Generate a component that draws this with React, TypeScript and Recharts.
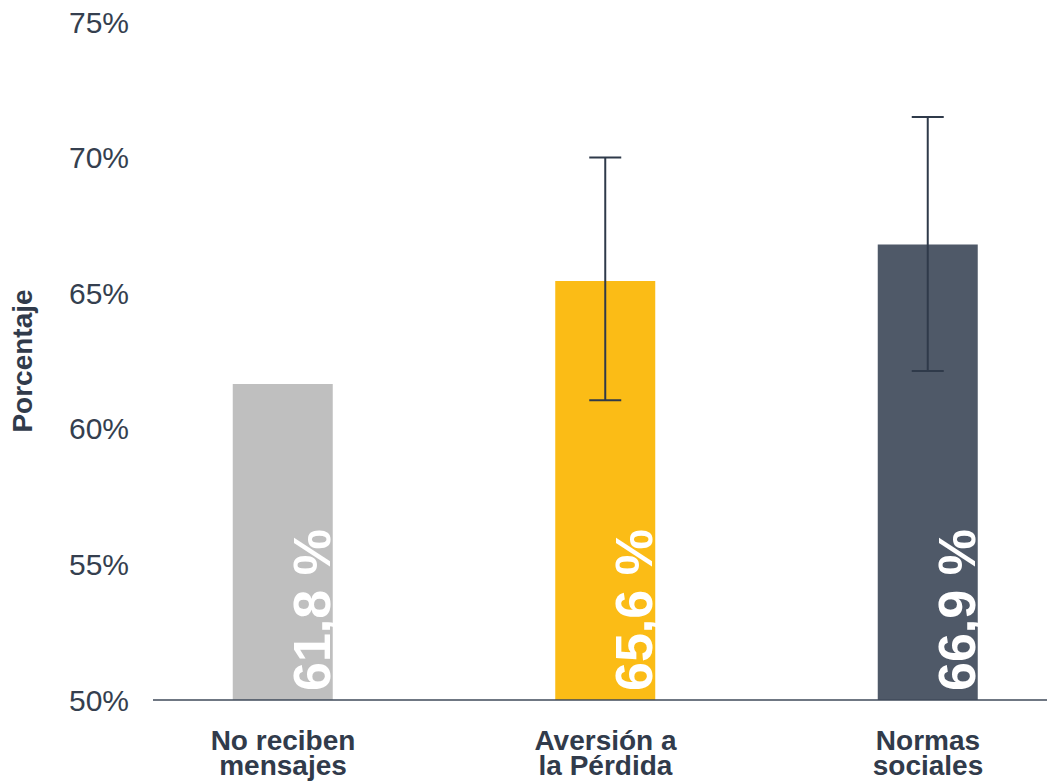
import { BarChart, Bar, XAxis, YAxis, Cell, ErrorBar, LabelList, Label } from 'recharts';

const categories = [
    ['No reciben', 'mensajes'],
    ['Aversión a', 'la Pérdida'],
    ['Normas', 'sociales'],
];
const values = [61.65, 65.45, 66.8];
const valueLabels = ['61,8 %', '65,6 %', '66,9 %'];
const errLow = [null, 4.4, 4.67];
const errHigh = [null, 4.55, 4.7];
const yTicks = [50, 55, 60, 65, 70, 75];
const colors = ['#bfbfbf', '#fbbc16', '#4f5968'];

const data = categories.map((c, i) => ({
    pos: i,
    value: values[i],
    err: errLow[i] === null ? null : [errLow[i], errHigh[i]],
}));

const textColor = '#313b4b';

const CategoryTick = ({ x, y, payload }: any) => {
    const lines = categories[payload.value] || [];
    return (
        <text
            x={x}
            y={y}
            textAnchor="middle"
            fill={textColor}
            fontSize={28}
            fontWeight="bold"
            fontFamily="'Liberation Sans', Arial, sans-serif"
        >
            {lines.map((l, i) => (
                <tspan key={i} x={x} dy={i === 0 ? 50 : 25}>
                    {l}
                </tspan>
            ))}
        </text>
    );
};

const BarValueLabel = ({ x, y, width, height, index }: any) => {
    const bx = x + width - 3;
    const by = y + height - 9;
    return (
        <text
            x={bx}
            y={by}
            transform={`rotate(-90, ${bx}, ${by})`}
            textAnchor="start"
            fill="#ffffff"
            fontSize={52}
            fontWeight="bold"
            fontFamily="'Liberation Sans', Arial, sans-serif"
        >
            {valueLabels[index]}
        </text>
    );
};

const App = () => {
    return (
        <div style={{ position: 'absolute', left: 0, top: 0, background: '#fff' }}>
            <BarChart
                width={1047}
                height={782}
                data={data}
                margin={{ top: 22, right: 0, left: 0, bottom: 0 }}
            >
                <XAxis
                    type="number"
                    dataKey="pos"
                    domain={[-0.4031, 2.369]}
                    ticks={[0, 1, 2]}
                    allowDataOverflow
                    height={82}
                    tickLine={false}
                    tickSize={0}
                    tickMargin={0}
                    axisLine={{ stroke: '#3f4a5a', strokeWidth: 1.5 }}
                    tick={<CategoryTick />}
                />
                <YAxis
                    width={153}
                    domain={[50, 75]}
                    ticks={yTicks}
                    allowDataOverflow
                    axisLine={false}
                    tickLine={false}
                    tickSize={0}
                    tickMargin={24}
                    tickFormatter={(v) => `${v}%`}
                    tick={{ fill: '#353f4f', fontSize: 30, fontFamily: "'Liberation Sans', Arial, sans-serif" }}
                >
                    <Label
                        content={({ viewBox }: any) => {
                            const cx = viewBox.x + 32;
                            const cy = viewBox.y + viewBox.height / 2;
                            return (
                                <text
                                    x={cx}
                                    y={cy}
                                    transform={`rotate(-90, ${cx}, ${cy})`}
                                    textAnchor="middle"
                                    fill={textColor}
                                    fontSize={28}
                                    fontWeight="bold"
                                    fontFamily="'Liberation Sans', Arial, sans-serif"
                                >
                                    Porcentaje
                                </text>
                            );
                        }}
                    />
                </YAxis>
                <Bar dataKey="value" barSize={100} isAnimationActive={false}>
                    {data.map((d, i) => (
                        <Cell key={i} fill={colors[i]} />
                    ))}
                    <LabelList dataKey="value" content={<BarValueLabel />} />
                    <ErrorBar dataKey="err" direction="y" width={16} stroke="#2f3a4a" strokeWidth={2} />
                </Bar>
            </BarChart>
        </div>
    );
};

export default App;
